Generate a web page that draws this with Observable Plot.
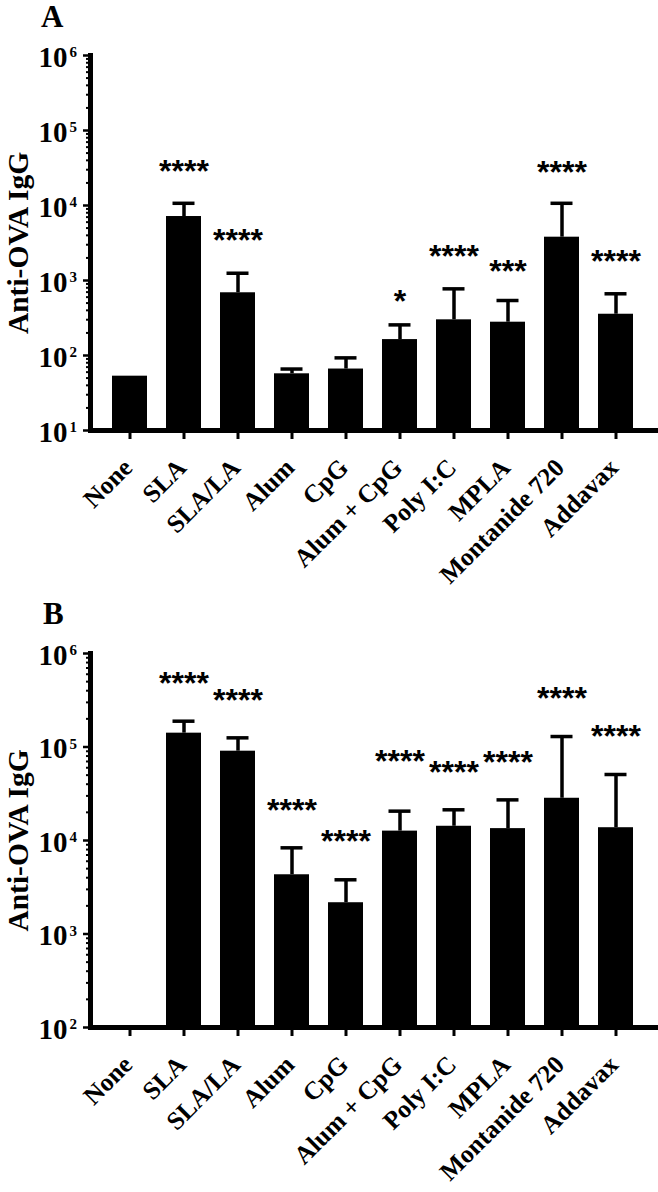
<!DOCTYPE html>
<html><head><meta charset="utf-8">
<script src="https://cdn.jsdelivr.net/npm/d3@7"></script>
<script src="https://cdn.jsdelivr.net/npm/@observablehq/plot@0.6"></script>
<style>
body{margin:0;background:#fff;}
#root{position:relative;width:658px;height:1192px;overflow:hidden;background:#fff;}
.panel{position:absolute;left:0;}
.letter{position:absolute;font-family:"Liberation Serif","Times New Roman",serif;font-weight:bold;font-size:31px;line-height:26px;color:#000;}
</style></head><body><div id="root"></div>
<script>
const categories = ["None","SLA","SLA/LA","Alum","CpG","Alum + CpG","Poly I:C","MPLA","Montanide 720","Addavax"];
// Panel A
const meanA   = [53, 7130, 686, 57, 66, 163, 299, 278, 3780, 355];
const errA    = [null, 10700, 1250, 66, 93, 256, 774, 541, 10700, 665];
const sigA    = ["", "****", "****", "", "", "*", "****", "***", "****", "****"];
const sigPosA = [null, 36300, 4280, null, null, 671, 2670, 1690, 35200, 2290];
const yTicksA = [1e1, 1e2, 1e3, 1e4, 1e5, 1e6];
// Panel B
const meanB   = [null, 140600, 90200, 4300, 2160, 12600, 14200, 13400, 28300, 13700];
const errB    = [null, 188800, 125300, 8350, 3800, 20600, 21300, 27200, 129400, 50800];
const sigB    = ["", "****", "****", "****", "****", "****", "****", "****", "****", "****"];
const sigPosB = [null, 582000, 376000, 25100, 11900, 85100, 65000, 83200, 395000, 157800];
const yTicksB = [1e2, 1e3, 1e4, 1e5, 1e6];
const yTitle = "Anti-OVA IgG";

const SERIF = '"Liberation Serif", "Times New Roman", serif';
const SANS = '"Liberation Sans", Arial, sans-serif';

function makePanel({mean, err, sig, sigPos, yTicks, marginTop, height}) {
  const rows = categories.map((c, i) => ({cat: c, mean: mean[i], err: err[i], sig: sig[i], sigPos: sigPos[i]}));
  const lo = yTicks[0], hi = yTicks[yTicks.length - 1];
  const minor = [];
  for (let k = 0; k < yTicks.length - 1; k++) for (let m = 2; m <= 9; m++) minor.push(yTicks[k] * m);
  return Plot.plot({
    width: 658, height, marginTop, marginBottom: 165, marginLeft: 90, marginRight: 3,
    style: {fontFamily: SERIF, fontWeight: "bold", color: "black", background: "white"},
    x: {domain: categories, paddingInner: 0.35, paddingOuter: 0.375, label: null},
    y: {type: "log", domain: [lo, hi], label: null},
    marks: [
      Plot.barY(rows.filter(d => d.mean != null), {x: "cat", y1: lo, y2: "mean", fill: "black"}),
      Plot.ruleX(rows.filter(d => d.err != null), {x: "cat", y1: "mean", y2: "err", stroke: "black", strokeWidth: 3.5}),
      Plot.tickY(rows.filter(d => d.err != null), {x: "cat", y: "err", stroke: "black", strokeWidth: 3.5, inset: 6.5}),
      Plot.text(rows.filter(d => d.sig), {x: "cat", y: "sigPos", text: "sig", fontFamily: SANS, fontSize: 32, fontWeight: "bold", textAnchor: "middle", lineAnchor: "middle", dy: 8, fill: "black"}),
      Plot.axisY(minor, {tickSize: 4, strokeWidth: 2, tickFormat: () => "", label: null}),
      Plot.axisY(yTicks, {tickSize: 7, strokeWidth: 2.5, tickFormat: () => "", label: null}),
      Plot.axisX({tickSize: 9, strokeWidth: 3, tickFormat: () => "", label: null}),
      Plot.frame({anchor: "left", strokeWidth: 5, stroke: "black"}),
      Plot.frame({anchor: "bottom", strokeWidth: 5, stroke: "black"}),
      // y tick labels: "10" + superscript exponent
      Plot.text(yTicks, {y: d => d, frameAnchor: "left", text: () => "10", textAnchor: "start", lineAnchor: "middle", dx: -52, dy: 2, fontSize: 29, fill: "black"}),
      Plot.text(yTicks, {y: d => d, frameAnchor: "left", text: d => String(Math.round(Math.log10(d))), textAnchor: "start", lineAnchor: "middle", dx: -21, dy: -3, fontSize: 15, fill: "black"}),
      // x tick labels
      Plot.text(categories, {x: d => d, frameAnchor: "bottom", text: d => d, rotate: -45, textAnchor: "end", lineAnchor: "middle", dx: -2, dy: 33, fontSize: 25.5, fill: "black"}),
      // y title
      Plot.text([yTitle], {frameAnchor: "left", rotate: -90, textAnchor: "middle", lineAnchor: "middle", dx: -72, fontSize: 29.5, fill: "black"})
    ]
  });
}

const root = document.getElementById("root");
const a = makePanel({mean: meanA, err: errA, sig: sigA, sigPos: sigPosA, yTicks: yTicksA, marginTop: 55, height: 595});
a.classList.add("panel"); a.style.top = "0px";
root.appendChild(a);
const b = makePanel({mean: meanB, err: errB, sig: sigB, sigPos: sigPosB, yTicks: yTicksB, marginTop: 57, height: 596});
b.classList.add("panel"); b.style.top = "596px";
root.appendChild(b);

for (const [txt, left, top] of [["A", 41, 4], ["B", 43, 601]]) {
  const d = document.createElement("div");
  d.className = "letter"; d.textContent = txt;
  d.style.left = left + "px"; d.style.top = top + "px";
  root.appendChild(d);
}
</script></body></html>
